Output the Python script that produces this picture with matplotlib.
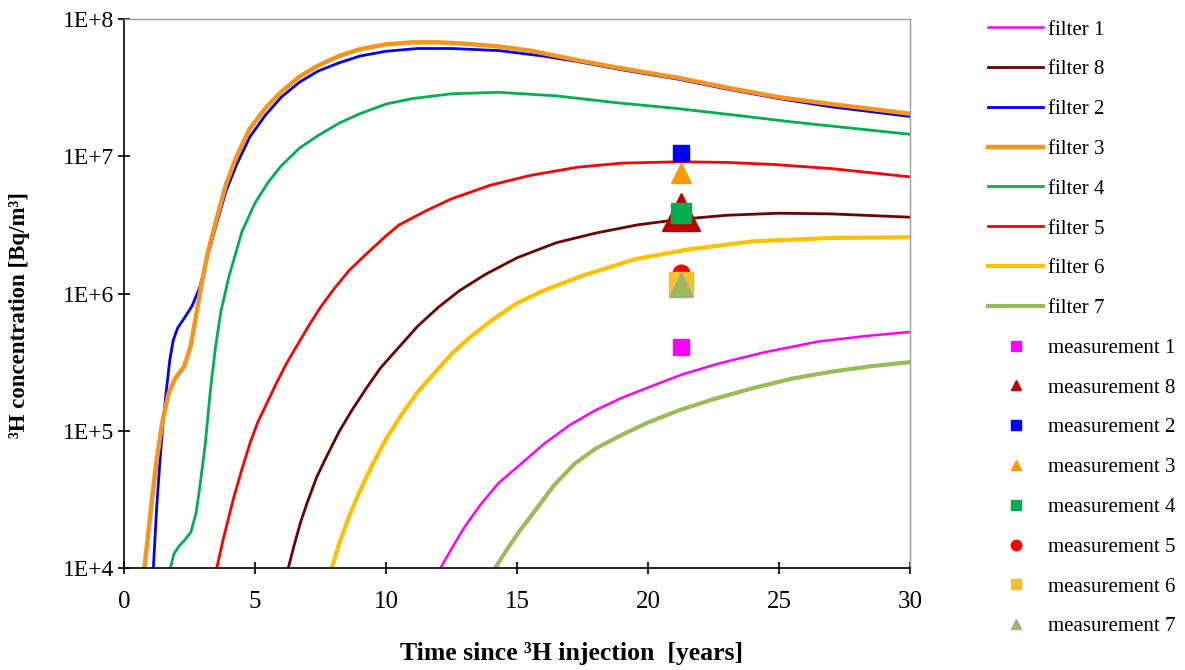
import numpy as np
import matplotlib
matplotlib.use('Agg')
import matplotlib.pyplot as plt
from matplotlib.lines import Line2D
from matplotlib.ticker import FixedLocator, FuncFormatter, NullLocator

plt.rcParams['font.family'] = ['Liberation Serif', 'DejaVu Serif']
plt.rcParams['font.size'] = 16

# Model curves: years since injection and log10 of 3H concentration [Bq/m3]
f1_years = [12.08, 12.5, 13.0, 13.6, 14.3, 15.1, 16.0, 17.0, 18.0, 19.0, 20.2, 21.3, 22.7, 24.4, 26.5, 28.3, 30.0]
f1_log = [4.0, 4.14, 4.3, 4.46, 4.62, 4.75, 4.9, 5.04, 5.15, 5.24, 5.33, 5.41, 5.49, 5.57, 5.65, 5.69, 5.72]

f8_years = [6.27, 6.5, 6.75, 7.0, 7.35, 7.7, 8.2, 8.7, 9.25, 9.8, 10.5, 11.2, 12.0, 12.8, 13.8, 15.0, 16.5,
            18.0, 19.6, 21.2, 23.0, 25.0, 27.0, 30.0]
f8_log = [4.0, 4.17, 4.34, 4.48, 4.66, 4.8, 4.99, 5.15, 5.31, 5.46, 5.61, 5.76, 5.9, 6.02, 6.14, 6.26, 6.37,
          6.44, 6.5, 6.54, 6.57, 6.585, 6.58, 6.556]

f2_years = [1.12, 1.25, 1.38, 1.5, 1.62, 1.75, 1.88, 2.05, 2.3, 2.6, 2.9, 3.2, 3.55, 3.9, 4.3, 4.8, 5.4, 6.0,
            6.7, 7.4, 8.2, 9.0, 10.0, 11.2, 12.5, 14.3, 16.0, 17.3, 19.0, 21.2, 23.0, 25.0, 27.0, 30.0]
f2_log = [4.0, 4.45, 4.8, 5.08, 5.3, 5.52, 5.66, 5.75, 5.82, 5.91, 6.05, 6.28, 6.52, 6.75, 6.94, 7.14, 7.3, 7.43,
          7.54, 7.62, 7.68, 7.73, 7.765, 7.785, 7.785, 7.77, 7.73, 7.69, 7.63, 7.56, 7.49, 7.42, 7.36, 7.29]

f3_years = [0.78, 1.0, 1.2, 1.45, 1.7, 1.95, 2.3, 2.55, 2.75, 2.95, 3.2, 3.5, 3.9, 4.3, 4.8, 5.4, 6.0,
            6.7, 7.4, 8.2, 9.0, 10.0, 11.0, 12.0, 13.0, 14.3, 15.5, 17.3, 19.0, 21.2, 23.0, 25.0, 27.0, 30.0]
f3_log = [4.0, 4.38, 4.72, 5.05, 5.27, 5.38, 5.47, 5.62, 5.84, 6.06, 6.3, 6.52, 6.8, 7.0, 7.2, 7.35, 7.47,
          7.58, 7.66, 7.73, 7.78, 7.815, 7.83, 7.83, 7.82, 7.8, 7.77, 7.7, 7.64, 7.57, 7.5, 7.43, 7.38, 7.31]

f4_years = [1.77, 1.9, 2.1, 2.3, 2.55, 2.75, 2.9, 3.1, 3.3, 3.5, 3.7, 4.0, 4.5, 5.0, 5.5, 6.0, 6.7, 7.4,
            8.2, 9.0, 10.0, 11.0, 12.5, 14.3, 16.5, 18.8, 21.0, 23.3, 25.5, 28.0, 30.0]
f4_log = [4.0, 4.1, 4.16, 4.2, 4.26, 4.4, 4.6, 4.9, 5.3, 5.62, 5.87, 6.12, 6.45, 6.66, 6.81, 6.93, 7.06, 7.15,
          7.24, 7.31, 7.38, 7.42, 7.455, 7.466, 7.44, 7.39, 7.35, 7.3, 7.25, 7.2, 7.16]

f5_years = [3.54, 3.8, 4.17, 4.5, 4.81, 5.1, 5.45, 5.8, 6.2, 6.6, 7.1, 7.5, 8.0, 8.6, 9.26, 10.0, 10.5, 11.5,
            12.5, 14.0, 15.5, 17.3, 19.0, 21.2, 23.0, 24.8, 27.0, 30.0]
f5_log = [4.0, 4.22, 4.5, 4.72, 4.91, 5.06, 5.2, 5.34, 5.49, 5.62, 5.78, 5.9, 6.03, 6.17, 6.29, 6.42, 6.5, 6.6,
          6.69, 6.79, 6.86, 6.92, 6.95, 6.96, 6.955, 6.94, 6.91, 6.85]

f6_years = [7.93, 8.2, 8.6, 9.0, 9.5, 10.0, 10.6, 11.2, 11.8, 12.5, 13.2, 14.0, 15.0, 16.0, 17.5, 19.5, 21.5,
            24.0, 27.0, 30.0]
f6_log = [4.0, 4.17, 4.38, 4.56, 4.76, 4.94, 5.12, 5.28, 5.41, 5.56, 5.68, 5.8, 5.93, 6.02, 6.13, 6.25, 6.32,
          6.38, 6.405, 6.41]

f7_years = [14.17, 14.6, 15.1, 15.7, 16.4, 17.2, 18.0, 19.0, 20.0, 21.2, 22.5, 24.0, 25.5, 27.0, 28.5, 30.0]
f7_log = [4.0, 4.13, 4.27, 4.42, 4.6, 4.76, 4.87, 4.97, 5.06, 5.15, 5.23, 5.31, 5.38, 5.43, 5.47, 5.5]

filter_names = ['filter 1', 'filter 8', 'filter 2', 'filter 3', 'filter 4', 'filter 5', 'filter 6', 'filter 7']
filter_years = [f1_years, f8_years, f2_years, f3_years, f4_years, f5_years, f6_years, f7_years]
filter_logs = [f1_log, f8_log, f2_log, f3_log, f4_log, f5_log, f6_log, f7_log]
filter_colors = ['#FF00FF', '#6E0000', '#0000FF', '#F7941E', '#00B050', '#FF0000', '#FFC000', '#9BBB59']
filter_widths = [1.8, 2.0, 2.0, 3.2, 2.0, 2.0, 3.0, 3.0]

# Measurements (all taken at the same time)
meas_names = ['measurement 1', 'measurement 8', 'measurement 2', 'measurement 3',
              'measurement 4', 'measurement 5', 'measurement 6', 'measurement 7']
meas_year = 21.25
meas_conc = [4.1e5, 3.95e6, 1.06e7, 7.6e6, 3.85e6, 1.4e6, 1.17e6, 1.15e6]
meas_markers = ['s', '^', 's', '^', 's', 'o', 's', '^']
meas_colors = ['#FF00FF', '#C00000', '#0000FF', '#FF9900', '#00B050', '#FF0000', '#F2C12E', '#9BBB59']
meas_edges = ['#FF00FF', '#C00000', '#0000FF', '#FF9900', '#00B050', '#FF0000', '#F2C12E', '#A5A5A5']
meas_sizes = [11, 27, 11, 14, 14.5, 12, 17, 17]

fig = plt.figure(figsize=(11.85, 6.70), dpi=100)
ax = fig.add_axes([124 / 1185, 102 / 670, 786 / 1185, 549 / 670])

for yrs, lg, c, lw in zip(filter_years, filter_logs, filter_colors, filter_widths):
    ax.plot(yrs, np.power(10.0, lg), color=c, lw=lw, solid_capstyle='butt', zorder=2)

for v, m, c, ec, s in zip(meas_conc, meas_markers, meas_colors, meas_edges, meas_sizes):
    ax.plot([meas_year], [v], marker=m, ms=s, color=c, mec=ec, mew=1.0, ls='none', zorder=3)

ax.set_yscale('log')
ax.set_ylim(1e4, 1e8)
ax.set_xlim(0, 30)
ax.yaxis.set_major_locator(FixedLocator([1e4, 1e5, 1e6, 1e7, 1e8]))
ax.yaxis.set_minor_locator(NullLocator())
ax.yaxis.set_major_formatter(FuncFormatter(lambda v, p: '1E+%d' % round(np.log10(v))))
ax.set_xticks([0, 5, 10, 15, 20, 25, 30])

for s in ['left', 'bottom']:
    ax.spines[s].set_color('black')
    ax.spines[s].set_linewidth(1.2)
for s in ['top', 'right']:
    ax.spines[s].set_color('#9A9A9A')
    ax.spines[s].set_linewidth(1.0)

ax.tick_params(axis='both', direction='inout', length=9, width=1.2, labelsize=17)
ax.tick_params(axis='x', pad=12, labelsize=18)
ax.tick_params(axis='y', pad=2.5)

ax.set_xlabel('Time since \u00b3H injection  [years]', fontsize=18.5, fontweight='bold')
ax.xaxis.set_label_coords(0.569, -0.135)
ax.set_ylabel('\u00b3H concentration [Bq/m\u00b3]', fontsize=16.5, fontweight='bold')
ax.yaxis.set_label_coords(-0.12, 0.46)

handles = []
for c, lw in zip(filter_colors, filter_widths):
    handles.append(Line2D([], [], color=c, lw=lw))
for m, c, ec in zip(meas_markers, meas_colors, meas_edges):
    handles.append(Line2D([], [], marker=m, ms=7.5, color=c, mec=ec, ls='none'))

fig.legend(handles, filter_names + meas_names, loc='upper left',
           bbox_to_anchor=(988 / 1185, 1 - 20 / 670), frameon=False,
           fontsize=15, labelspacing=0.97, handlelength=2.64, handletextpad=0.25,
           borderaxespad=0, borderpad=0)

fig.savefig('out.png', dpi=100)
